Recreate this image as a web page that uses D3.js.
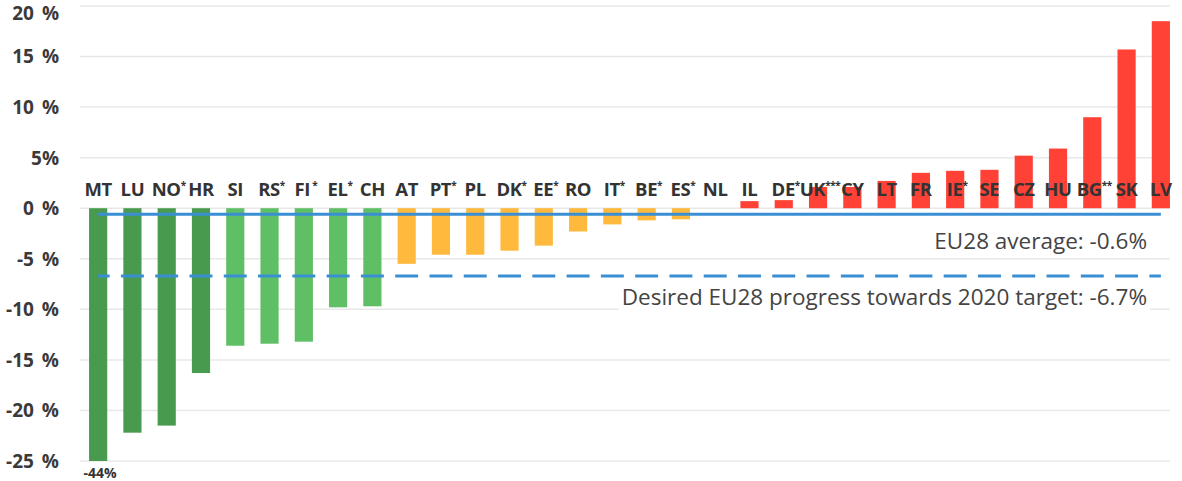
<!DOCTYPE html>
<html>
<head>
<meta charset="utf-8">
<script src="https://cdn.jsdelivr.net/npm/d3@7"></script>
<style>
  body { margin: 0; background: #fff; }
  svg { display: block; font-family: "Open Sans", sans-serif; }
</style>
</head>
<body>
<script>
// countries, sorted by change
const countries = ["MT", "LU", "NO", "HR", "SI", "RS", "FI", "EL", "CH", "AT", "PT", "PL", "DK", "EE", "RO", "IT",
  "BE", "ES", "NL", "IL", "DE", "UK", "CY", "LT", "FR", "IE", "SE", "CZ", "HU", "BG", "SK", "LV"];
const footMarks = ["", "", "*", "", "", "*", " *", "*", "", "", "*", "", "*", "*", "", "*",
  "*", "*", "", "", "*", "***", "", "", "", "*", "", "", "", "**", "", ""];
const changes = [-44, -22.2, -21.5, -16.3, -13.6, -13.4, -13.2, -9.8, -9.7, -5.5, -4.6, -4.6, -4.2, -3.7, -2.3, -1.6,
  -1.2, -1.1, 0, 0.7, 0.8, 2.1, 2.1, 2.7, 3.5, 3.7, 3.8, 5.2, 5.9, 9.0, 15.7, 18.5];
const groups = ["dark", "dark", "dark", "dark", "light", "light", "light", "light", "light",
  "amber", "amber", "amber", "amber", "amber", "amber", "amber", "amber", "amber", "amber",
  "red", "red", "red", "red", "red", "red", "red", "red", "red", "red", "red", "red", "red"];

const yTicks = [20, 15, 10, 5, 0, -5, -10, -15, -20, -25];
const yTickLabels = ["20 %", "15 %", "10 %", "5%", "0 %", "-5 %", "-10 %", "-15 %", "-20 %", "-25 %"];

const euAverage = -0.6;
const euTarget = -6.7;
const avgLabel = "EU28 average: -0.6%";
const targetLabel = "Desired EU28 progress towards 2020 target: -6.7%";

const W = 1182, H = 481;
const colorOf = { dark: "#489b4e", light: "#5ebf65", amber: "#ffb93c", red: "#ff4136" };

const svg = d3.select("body").append("svg")
  .attr("width", W)
  .attr("height", H);

const x = d3.scaleBand()
  .domain(countries)
  .range([81, 1178])
  .paddingInner(0.47)
  .paddingOuter(0.235);

const y = d3.scaleLinear()
  .domain([-25, 20])
  .range([461, 6]);

const gridEnd = x("LV") + x.bandwidth();

// gridlines
svg.append("g").selectAll("line")
  .data(yTicks)
  .enter().append("line")
  .attr("x1", 80)
  .attr("x2", gridEnd)
  .attr("y1", d => y(d))
  .attr("y2", d => y(d))
  .attr("stroke", "#e8e8e8")
  .attr("stroke-width", 1.5);

// y labels (top one nudged down so it stays inside)
svg.append("g").selectAll("text")
  .data(yTicks)
  .enter().append("text")
  .attr("x", 59)
  .attr("y", d => Math.max(y(d), 13))
  .attr("dy", "0.36em")
  .attr("text-anchor", "end")
  .attr("font-size", 19)
  .attr("font-weight", 700)
  .attr("word-spacing", 3)
  .attr("fill", "#3a3a3a")
  .text((d, i) => yTickLabels[i]);

// bars (clipped at the axis minimum)
const yMin = y.domain()[0];
svg.append("g").selectAll("rect")
  .data(changes)
  .enter().append("rect")
  .attr("x", (d, i) => x(countries[i]))
  .attr("width", x.bandwidth())
  .attr("y", d => y(Math.max(d, 0)))
  .attr("height", d => Math.abs(y(Math.max(d, yMin)) - y(0)))
  .attr("fill", (d, i) => colorOf[groups[i]]);

// country labels
const labels = svg.append("g").selectAll("text")
  .data(countries)
  .enter().append("text")
  .attr("x", (d, i) => x(d) + x.bandwidth() / 2 + (footMarks[i] ? 2 : 0))
  .attr("y", 196)
  .attr("text-anchor", "middle")
  .attr("font-size", 18.5)
  .attr("font-weight", 700)
  .attr("letter-spacing", -0.4)
  .attr("fill", "#333");
labels.append("tspan").text(d => d);
labels.append("tspan")
  .attr("font-size", 10)
  .attr("dy", -7)
  .text((d, i) => footMarks[i]);

// clipped value note
svg.append("text")
  .attr("x", x("MT") + x.bandwidth() / 2 + 2)
  .attr("y", 478)
  .attr("text-anchor", "middle")
  .attr("font-size", 14)
  .attr("font-weight", 700)
  .attr("fill", "#333")
  .text(changes[0] + "%");

// reference lines
const xStart = x("MT") + x.bandwidth() / 2;
const xEnd = x("LV") + x.bandwidth() / 2;
const step = x.step();

svg.append("line")
  .attr("x1", xStart).attr("x2", xEnd)
  .attr("y1", y(euAverage)).attr("y2", y(euAverage))
  .attr("stroke", "#3a8fd4")
  .attr("stroke-width", 3);

svg.append("line")
  .attr("x1", xStart).attr("x2", xEnd)
  .attr("y1", y(euTarget)).attr("y2", y(euTarget))
  .attr("stroke", "#3a8fd4")
  .attr("stroke-width", 3)
  .attr("stroke-dasharray", (step * 0.67) + " " + (step * 0.33))
  .attr("stroke-dashoffset", step * 0.335);

// annotations with white backing
function note(txt, yy) {
  const g = svg.append("g");
  const t = g.append("text")
    .attr("x", 1147)
    .attr("y", yy)
    .attr("text-anchor", "end")
    .attr("font-size", 22.5)
    .attr("fill", "#444")
    .text(txt);
  const b = t.node().getBBox();
  g.insert("rect", "text")
    .attr("x", b.x - 3).attr("y", b.y)
    .attr("width", b.width + 6).attr("height", b.height)
    .attr("fill", "#fff");
}
note(avgLabel, 249);
note(targetLabel, 305);
</script>
</body>
</html>
